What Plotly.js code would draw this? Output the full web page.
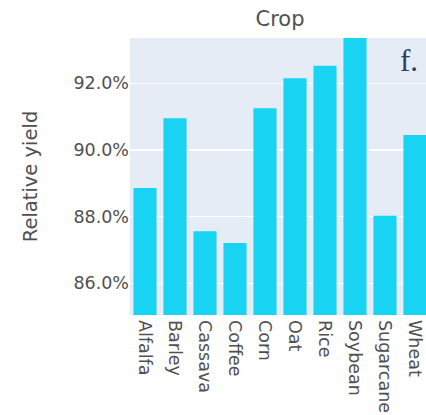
<!DOCTYPE html>
<html>
<head>
<meta charset="utf-8">
<script src="https://cdn.plot.ly/plotly-3.0.1.min.js"></script>
<style>
html, body { margin: 0; padding: 0; overflow: hidden; background: #fff; }
#chart { width: 440px; height: 415px; }
</style>
</head>
<body>
<div id="chart"></div>
<script>
const crops = ["Alfalfa", "Barley", "Cassava", "Coffee", "Corn", "Oat", "Rice", "Soybean", "Sugarcane", "Wheat"];
const relativeYield = [0.8886, 0.9095, 0.8756, 0.8721, 0.9125, 0.9215, 0.9253, 0.9345, 0.8803, 0.9045];
const titleText = "Crop";
const yTitleText = "Relative yield";
const panelLabel = "f.";

const fam = "Verdana, 'DejaVu Sans', sans-serif";
const grey = "#505050";
const tickFont = { family: fam, size: 17.5, color: grey };

Plotly.newPlot("chart", [{
  type: "bar",
  x: crops,
  y: relativeYield,
  marker: { color: "#19d3f3" },
  hovertemplate: "%{x}: %{y:.1%}<extra></extra>"
}], {
  width: 440,
  height: 415,
  margin: { l: 130, r: 10, t: 38, b: 100 },
  paper_bgcolor: "#ffffff",
  plot_bgcolor: "#e5ecf6",
  font: tickFont,
  bargap: 0.23,
  showlegend: false,
  title: {
    text: titleText,
    font: { family: fam, size: 21, color: grey },
    x: 0.5, xref: "paper", xanchor: "center",
    y: 0.954, yref: "container", yanchor: "middle"
  },
  xaxis: {
    type: "category",
    tickangle: 90,
    showgrid: false,
    zeroline: false,
    tickfont: tickFont,
    ticklabelstandoff: 4,
    automargin: false
  },
  yaxis: {
    range: [0.8505, 0.9336],
    tickformat: ".1%",
    dtick: 0.02,
    tick0: 0.86,
    gridcolor: "#ffffff",
    gridwidth: 1.4,
    zeroline: false,
    tickfont: tickFont,
    automargin: false,
    title: { text: yTitleText, font: { family: fam, size: 19.5, color: grey }, standoff: 30 }
  },
  annotations: [{
    text: panelLabel,
    xref: "paper", yref: "paper",
    x: 0.893, y: 0.99,
    xanchor: "left", yanchor: "top",
    showarrow: false,
    font: { family: "'Liberation Serif', 'DejaVu Serif', serif", size: 31, color: "#2a3f5f" }
  }]
}, { displayModeBar: false, staticPlot: true });
</script>
</body>
</html>
